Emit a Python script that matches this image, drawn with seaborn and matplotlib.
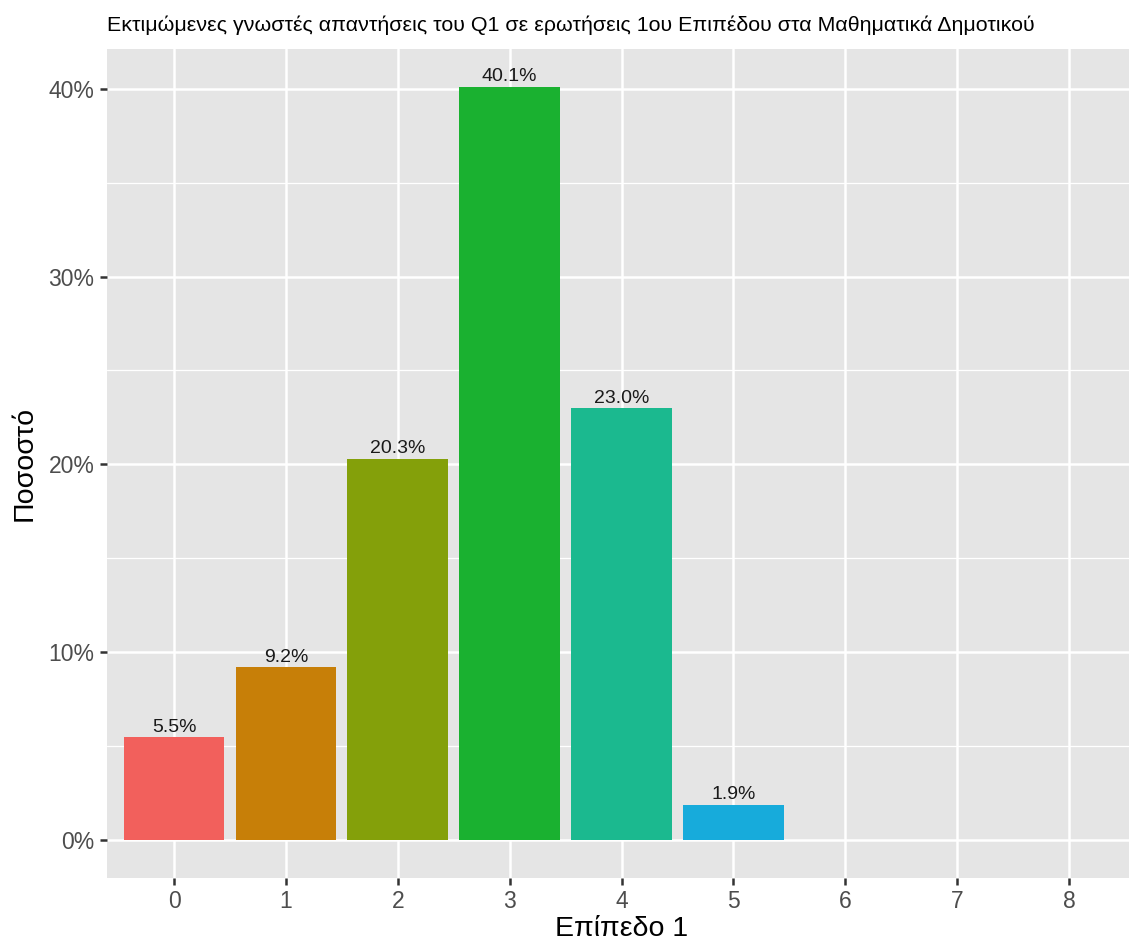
import matplotlib
matplotlib.use("Agg")
import matplotlib.pyplot as plt
from matplotlib.ticker import MultipleLocator, FuncFormatter
import pandas as pd
import seaborn as sns

# data
levels = ["0", "1", "2", "3", "4", "5", "6", "7", "8"]
percent = [5.5, 9.2, 20.3, 40.1, 23.0, 1.9, 0.0, 0.0, 0.0]
bar_colors = ["#F2605C", "#C77F08", "#84A00A", "#1AB130", "#1BB98F",
              "#17ABDB", "#619CFF", "#DB72FB", "#FF61C3"]

title = "Εκτιμώμενες γνωστές απαντήσεις του Q1 σε ερωτήσεις 1ου Επιπέδου στα Μαθηματικά Δημοτικού"
xlab = "Επίπεδο 1"
ylab = "Ποσοστό"

df = pd.DataFrame({"level": levels, "pct": percent})

sns.set_theme(style="darkgrid")
plt.rcParams["font.family"] = ["Liberation Sans", "DejaVu Sans"]

W, H = 1129, 942
fig = plt.figure(figsize=(W / 100, H / 100), dpi=100)
# panel: left 107px, top 49px, bottom 878px, right runs past the image edge
ax = fig.add_axes([107 / W, 1 - 878 / H, (1136 - 107) / W, (878 - 49) / H])
ax.set_facecolor("#E5E5E5")

sns.barplot(data=df, x="level", y="pct", hue="level", palette=bar_colors,
            order=levels, hue_order=levels, width=0.9, legend=False,
            saturation=1, linewidth=0, ax=ax, zorder=2)

for cont, v in zip(ax.containers, percent):
    if v > 0:
        ax.bar_label(cont, labels=[f"{v:.1f}%"], padding=1, fontsize=14,
                     color="#1A1A1A")

ymax = max(percent)
ax.set_ylim(-0.05 * ymax, 1.05 * ymax)
ax.set_xlim(-0.6, len(levels) - 1 + 0.6)

ax.yaxis.set_major_locator(MultipleLocator(10))
ax.yaxis.set_minor_locator(MultipleLocator(5))
ax.yaxis.set_major_formatter(FuncFormatter(lambda v, p: f"{v:.0f}%"))

ax.grid(False)
ax.grid(which="major", color="white", linewidth=1.8, zorder=0)
ax.grid(which="minor", axis="y", color="white", linewidth=0.9, zorder=0)
ax.set_axisbelow(True)
for s in ax.spines.values():
    s.set_visible(False)

ax.tick_params(axis="both", which="major", length=5, width=1.8,
               color="#333333", labelcolor="#4D4D4D", labelsize=16.5, pad=4)
ax.tick_params(axis="y", which="minor", length=0)
ax.tick_params(bottom=True, left=True)

ax.set_xlabel(xlab, fontsize=20.5, color="black", labelpad=2)
ax.set_ylabel(ylab, fontsize=20.5, color="black", labelpad=8)

fig.text(107 / W, 1 - 25 / H, title, ha="left", va="center", fontsize=15.4,
         color="black")

fig.savefig("out.png", dpi=100)
